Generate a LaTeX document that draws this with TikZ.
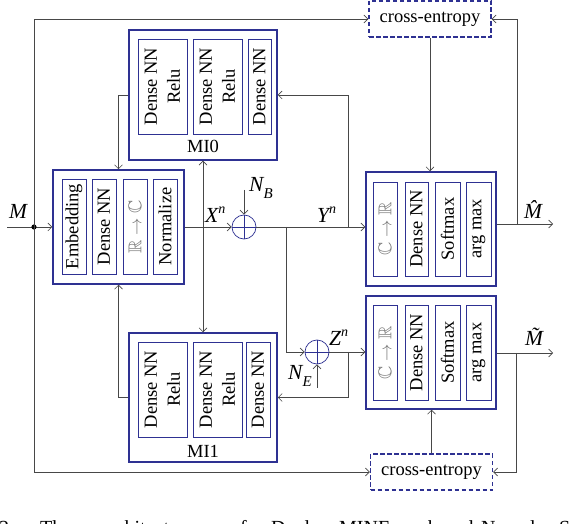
\documentclass[tikz,border=0pt]{standalone}
\usepackage{fontspec}
\setmainfont{Liberation Serif}
\usepackage{amssymb}
\usetikzlibrary{arrows.meta}
\definecolor{navy}{RGB}{46,49,146}
\newcommand{\lsub}[1]{\raisebox{-0.32em}{\fontsize{15}{15}\selectfont #1}}
\newcommand{\lsup}[1]{\raisebox{0.45em}{\fontsize{14}{14}\selectfont #1}}
\begin{document}
\begin{tikzpicture}[x=1pt,y=-1pt]
\tikzset{
 blk/.style={draw=navy,line width=1.5pt,inner sep=0pt},
 sub/.style={draw=navy,line width=0.6pt,rotate=90,inner sep=0pt,align=center,font=\fontsize{18.5}{23}\selectfont},
 ce/.style={draw=navy,line width=1.3pt,dash pattern=on 4.5pt off 2.5pt,minimum width=122pt,minimum height=36pt,inner sep=0pt,font=\fontsize{18.5}{20}\selectfont},
 wire/.style={draw=black!72,line width=0.7pt},
 arr/.style={wire,-{Straight Barb[length=4pt,width=8pt]}},
 lab/.style={font=\fontsize{21.5}{23}\selectfont\itshape,inner sep=0pt,anchor=base west},
 captxt/.style={font=\fontsize{20}{22}\selectfont,inner sep=0pt,anchor=base west},
 add/.style={circle,draw=navy,line width=0.7pt,minimum size=24pt,inner sep=0pt,
   path picture={\draw[navy,line width=0.6pt] (path picture bounding box.north) -- (path picture bounding box.south) (path picture bounding box.west) -- (path picture bounding box.east);}},
}
\useasboundingbox (0,0) rectangle (574,524);
\clip (0,0) rectangle (574,524);

% cross-entropy boxes
\node[ce] (ceTop) at (430,19) {cross-entropy};
\node[ce] (ceBot) at (431.5,472) {cross-entropy};

% MI0
\node[blk,minimum width=148pt,minimum height=130pt] (mi0) at (203,95) {};
\node[sub,minimum width=95pt,minimum height=49pt] (mi0a) at (162.5,86.5) {Dense NN\\Relu};
\node[sub,minimum width=95pt,minimum height=49pt] (mi0b) at (217.5,86.5) {Dense NN\\Relu};
\node[sub,minimum width=95pt,minimum height=23pt] (mi0c) at (259.5,86.5) {Dense NN};
\node[font=\fontsize{18.5}{20}\selectfont,inner sep=0pt] (mi0l) at (203,146) {MI0};

% MI1
\node[blk,minimum width=148pt,minimum height=129pt] (mi1) at (203,397.5) {};
\node[sub,minimum width=95pt,minimum height=49pt] (mi1a) at (162.5,389.5) {Dense NN\\Relu};
\node[sub,minimum width=95pt,minimum height=49pt] (mi1b) at (217.5,389.5) {Dense NN\\Relu};
\node[sub,minimum width=95pt,minimum height=24pt] (mi1c) at (258,389.5) {Dense NN};
\node[font=\fontsize{18.5}{20}\selectfont,inner sep=0pt] (mi1l) at (203,451) {MI1};

% encoder
\node[blk,minimum width=131pt,minimum height=114pt] (enc) at (118.5,227) {};
\node[sub,minimum width=95pt,minimum height=24pt] (enca) at (74,226.5) {Embedding};
\node[sub,minimum width=95pt,minimum height=24pt] (encb) at (104,226.5) {Dense NN};
\node[sub,minimum width=95pt,minimum height=24pt] (encc) at (135,226.5) {\textcolor{black!55}{$\mathbb{R}\to\mathbb{C}$}};
\node[sub,minimum width=95pt,minimum height=24pt] (encd) at (165,226.5) {Normalize};

% decoder 1
\node[blk,minimum width=130pt,minimum height=114pt] (dec1) at (431,229) {};
\node[sub,minimum width=94pt,minimum height=24pt] (d1a) at (385,229) {\textcolor{black!55}{$\mathbb{C}\to\mathbb{R}$}};
\node[sub,minimum width=94pt,minimum height=23pt] (d1b) at (416.5,229) {Dense NN};
\node[sub,minimum width=94pt,minimum height=25pt] (d1c) at (447.5,229) {Softmax};
\node[sub,minimum width=94pt,minimum height=25pt] (d1d) at (478.5,229) {arg max};

% decoder 2
\node[blk,minimum width=130pt,minimum height=113pt] (dec2) at (431,352.5) {};
\node[sub,minimum width=95pt,minimum height=24pt] (d2a) at (385,352.5) {\textcolor{black!55}{$\mathbb{C}\to\mathbb{R}$}};
\node[sub,minimum width=95pt,minimum height=23pt] (d2b) at (416.5,352.5) {Dense NN};
\node[sub,minimum width=95pt,minimum height=25pt] (d2c) at (447.5,352.5) {Softmax};
\node[sub,minimum width=95pt,minimum height=25pt] (d2d) at (478.5,352.5) {arg max};

% adders
\node[add] (addB) at (244,227) {};
\node[add] (addE) at (317,352) {};

% coordinates
\coordinate (min) at (7,227);
\coordinate (dot) at (34,227);
\coordinate (xs) at (203,227);
\coordinate (nb) at (244,190);
\coordinate (ys) at (348,227);
\coordinate (zs) at (286,227);
\coordinate (ne) at (317,388);
\coordinate (zb) at (348,352);
\coordinate (mhat) at (553,224);
\coordinate (rt) at (517,224);
\coordinate (mtil) at (553,353);
\coordinate (rb) at (516,353);

% wires
\draw[arr] (min) -- (enc.west);
\fill[black] (dot) circle (2.6pt);
\draw[arr] (dot) |- (ceTop.west);
\draw[arr] (dot) |- (ceBot.west);
\draw[arr] (mi0.west) -| (enc.north);
\draw[arr] (mi1.west) -| (enc.south);
\draw[arr] (enc.east) -- (addB.west);
\draw[arr] (xs) -- (mi0.south);
\draw[arr] (xs) -- (mi1.north);
\draw[arr] (nb) -- (addB.north);
\draw[arr] (addB.east) -- (dec1.west |- addB.east);
\draw[arr] (ys) |- (mi0.east);
\draw[arr] (zs) |- (addE.west);
\draw[arr] (ne) -- (addE.south);
\draw[arr] (addE.east) -- (dec2.west |- addE.east);
\draw[arr] (zb) |- (mi1.east);
\draw[arr] (ceTop.south) -- (ceTop.south |- dec1.north);
\draw[arr] (dec1.east |- mhat) -- (mhat);
\draw[arr] (rt) |- (ceTop.east);
\draw[arr] (dec2.east |- mtil) -- (mtil);
\draw[arr] (rb) |- (ceBot.east);
\draw[arr] (ceBot.north) -- (ceBot.north |- dec2.south);

% labels
\node[lab] (lM) at (9,219) {M};
\node[lab] (lX) at (205,223) {X\lsup{n}};
\node[lab] (lNB) at (249,192) {N\lsub{B}};
\node[lab] (lY) at (317,223) {Y\lsup{n}};
\node[lab] (lZ) at (329,346) {Z\lsup{n}};
\node[lab] (lNE) at (288,380) {N\lsub{E}};
\node[lab] (lMh) at (524,219) {\^{M}};
\node[lab] (lMt) at (525,346) {\~{M}};

% caption (cut off by the page edge)
\node[captxt] (c1) at (-1,534.5) {2.};
\node[captxt] (c2) at (40,534.5) {The};
\node[captxt] (c3) at (100,534.5) {architecture};
\node[captxt] (c4) at (240,534.5) {for};
\node[captxt] (c5) at (271,534.5) {Dual};
\node[captxt] (c6) at (339,534.5) {MINE};
\node[captxt] (c7) at (428,534.5) {based};
\node[captxt] (c8) at (481,534.5) {Neural};
\node[captxt] (c9) at (559,534.5) {S};
\end{tikzpicture}
\end{document}
